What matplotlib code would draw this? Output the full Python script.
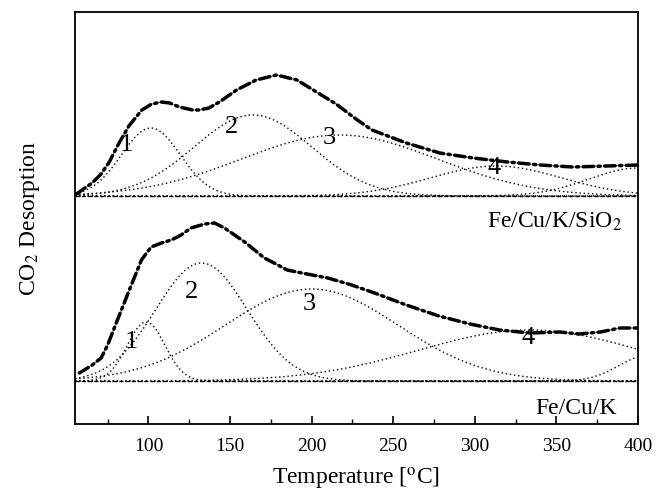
import numpy as np
import matplotlib
matplotlib.use("Agg")
import matplotlib.pyplot as plt

plt.rcParams['font.family'] = ['Liberation Serif', 'DejaVu Serif']
plt.rcParams['mathtext.fontset'] = 'stix'

# ---- data (heights in arbitrary units above each sample's baseline) ----
# Fe/Cu/K/SiO2 (upper trace): measured envelope
top_T = [56, 61, 65.5, 71, 76, 82, 88, 96, 102, 108, 113, 119, 127, 131, 137,
         143.5, 154, 166, 178.5, 191, 203, 215, 228, 237, 258, 278.5, 299, 320,
         340, 360, 381, 400]
top_h = [2, 8, 13, 22, 34, 53, 70, 86, 92, 94, 93, 89, 86, 86, 88,
         94, 106, 116, 121, 116, 104, 92, 76, 66, 53, 43, 38, 34,
         31, 29, 30, 31]
# deconvoluted peaks: centre, height, width
top_centers = [101.5, 164, 217, 313, 400]
top_heights = [68, 81, 61, 30, 28]
top_widths = [18, 36, 60, 40, 30]

# Fe/Cu/K (lower trace): measured envelope
bot_T = [57.7, 65.6, 71, 75, 81, 88.3, 95.7, 101.6, 108, 114, 120, 126, 134.5,
         140.5, 146.6, 152.8, 159, 165, 171, 177, 185, 194, 210, 224.5, 238.6,
         258, 278, 297, 315, 334, 352, 364, 377, 389, 399]
bot_h = [8, 16, 23, 36, 61, 91, 121, 134, 138, 141, 146, 153, 157,
         158, 153, 146, 139, 131, 123, 118, 111, 108, 103, 96, 88,
         76, 65, 57, 51, 48, 49, 47, 49, 53, 53]
bot_centers = [98.6, 132.5, 200, 333.7, 405]
bot_heights = [59, 118, 92, 51, 25]
bot_widths = [11.5, 28, 53, 68, 17]

offsets = [228, 43]          # baselines of upper / lower traces
peak_labels = ['1', '2', '3', '4']
top_label_pos = [(86.3, 279), (150.8, 297), (211, 286), (311.7, 256)]
bot_label_pos = [(89.8, 82), (126.2, 132), (198.8, 120), (332.5, 86)]
sample_names = ['Fe/Cu/K/SiO$_2$', 'Fe/Cu/K']
sample_pos = [(390, 202), (387, 16)]

xticks = [100, 150, 200, 250, 300, 350, 400]

fig = plt.figure(figsize=(6.7, 4.94), dpi=100)
ax = fig.add_axes([75/670, 1-424/494, 563/670, 412/494])

T = np.linspace(55, 400, 700)

def gauss(x, c, h, w):
    return h * np.exp(-(x - c) ** 2 / (2 * w ** 2))

for off, envT, envh, cs, hs, ws, lpos in [
        (offsets[0], top_T, top_h, top_centers, top_heights, top_widths, top_label_pos),
        (offsets[1], bot_T, bot_h, bot_centers, bot_heights, bot_widths, bot_label_pos)]:
    ax.plot([55, 400], [off, off], color='black', lw=1.0, ls=(0, (3, 1.5)))
    for c, h, w in zip(cs, hs, ws):
        g = gauss(T, c, h, w)
        ax.plot(T, off + g, color='black', lw=1.0, ls=(0, (1, 2)))
    ax.plot(envT, off + np.array(envh), color='#888888', lw=0.8)
    ax.plot(envT, off + np.array(envh), color='black', lw=2.5,
            ls=(0, (3, 1.3, 0.6, 1.3)), dash_capstyle='round')
    for lab, (lx, ly) in zip(peak_labels, lpos):
        ax.text(lx, ly, lab, fontsize=19, ha='center', va='center')

for name, (sx, sy) in zip(sample_names, sample_pos):
    ax.text(sx, sy, name, fontsize=17, ha='right', va='center')

ax.set_xlim(55, 400)
ax.set_ylim(0, 412)
ax.set_xticks(xticks)
ax.set_xticks([75, 125, 175, 225, 275, 325, 375], minor=True)
ax.set_yticks([])
ax.tick_params(axis='x', which='major', direction='in', length=6, width=1.2,
               labelsize=14, pad=10, top=False)
ax.tick_params(axis='x', which='minor', direction='in', length=3.5, width=1.0, top=False)
for s in ax.spines.values():
    s.set_linewidth(1.3)

ax.set_xlabel('Temperature [$^{\\rm o}$C]', fontsize=17, labelpad=8)
ax.set_ylabel('CO$_2$ Desorption', fontsize=17, labelpad=24)

fig.savefig('out.png', dpi=100)
